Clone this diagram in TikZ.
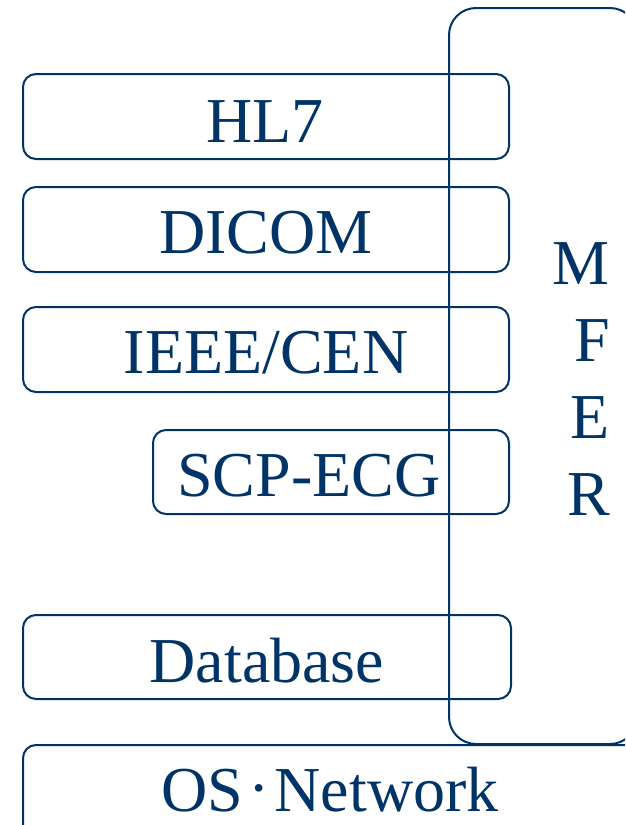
\documentclass[tikz,border=0pt]{standalone}
\usepackage{fontspec}
\setmainfont{Liberation Serif}
\definecolor{navy}{RGB}{0,51,102}
\begin{document}
\begin{tikzpicture}[x=1pt,y=-1pt,
  box/.style={draw=navy,line width=2pt,rounded corners=13pt,rectangle,inner sep=0pt,outer sep=0pt},
  lbl/.style={text=navy,inner sep=0pt,anchor=base,font=\fontsize{64}{70}\selectfont},
  letter/.style={text=navy,inner sep=0pt,anchor=base east,font=\fontsize{64}{70}\selectfont}]
\useasboundingbox (0,0) rectangle (625,825);
\clip (0,0) rectangle (625,825);
% MFER frame
\node[box,rounded corners=27pt,minimum width=188pt,minimum height=736pt] (mfer) at (543,376) {};
% layer boxes
\node[box,minimum width=486pt,minimum height=85pt] (hl7box) at (266,116.5) {};
\node[box,minimum width=486pt,minimum height=85pt] (dicombox) at (266,229.5) {};
\node[box,minimum width=486pt,minimum height=85pt] (ieeebox) at (266,349.5) {};
\node[box,minimum width=356pt,minimum height=84pt] (scpbox) at (331,472) {};
\node[box,minimum width=488pt,minimum height=84pt] (dbbox) at (267,657) {};
\node[box,minimum width=677pt,minimum height=155pt] (osbox) at (361.5,822.5) {};
% labels
\node[lbl] (hl7) at (265,142) {HL7};
\node[lbl] (dicom) at (266,253) {DICOM};
\node[lbl] (ieee) at (266,373) {IEEE/CEN};
\node[lbl] (scp) at (309,496) {SCP-ECG};
\node[lbl] (db) at (267,682) {Database};
\node[lbl] (os) at (330,811) {OS{\kern0.08em}\raisebox{0.03em}{·}{\kern0.08em}Network};
% MFER letters
\node[letter] (m) at (610,284) {M};
\node[letter] (f) at (610,361) {F};
\node[letter] (e) at (610,438) {E};
\node[letter] (r) at (610,515) {R};
\end{tikzpicture}
\end{document}
